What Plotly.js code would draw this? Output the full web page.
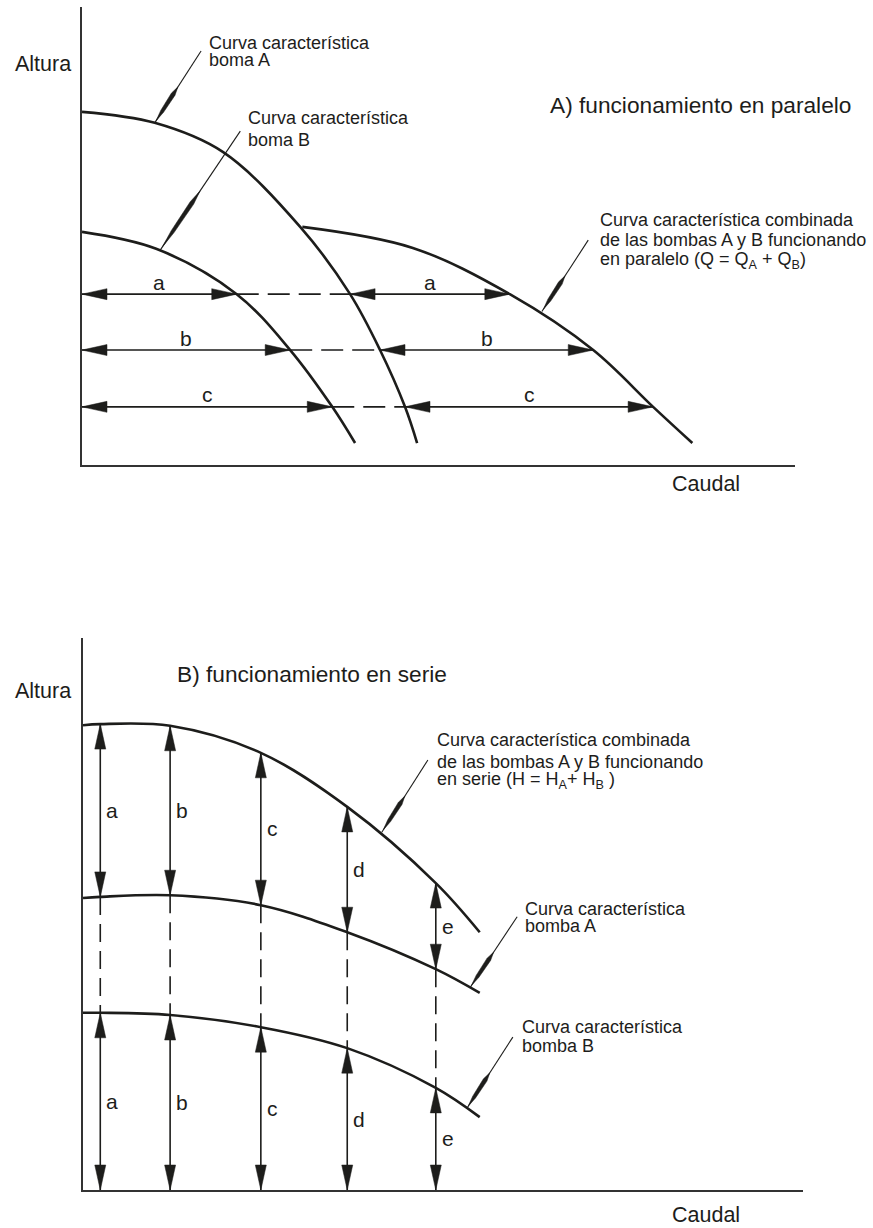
<!DOCTYPE html>
<html>
<head>
<meta charset="utf-8">
<script src="https://cdn.plot.ly/plotly-3.0.1.min.js"></script>
<style>html,body{margin:0;padding:0;background:#fff;}</style>
</head>
<body>
<div id="chart" style="width:873px;height:1228px;"></div>
<script>
// ---------- DATA (arbitrary units: Caudal 0-100, Altura 0-100) ----------
// A) parallel operation
const qA  = [0, 10.2, 19.8, 30.6, 37.6, 41.8, 45.3, 47.0];
const hA  = [77.1, 74.7, 68.3, 52.0, 37.3, 25.1, 12.7, 4.8];
const qB  = [0, 10.4, 21.7, 29.2, 35.1, 38.3];
const hB  = [50.9, 47.2, 37.3, 25.1, 12.7, 4.8];
const qAB = [30.9, 46.4, 60.0, 71.7, 80.1, 85.6];
const hAB = [52.0, 47.4, 37.3, 25.1, 12.7, 4.8];
const parLevels = [37.3, 25.1, 12.7];
const parLabels = ['a', 'b', 'c'];

// B) series operation
const qS   = [0, 2.4, 12.1, 24.7, 36.7, 49.0, 55.1];
const hSAB = [84.2, 84.4, 84.1, 79.2, 69.4, 55.6, 46.7];
const qSp  = [0, 2.4, 12.1, 24.7, 36.7, 49.0, 55.1];
const hSA  = [52.9, 53.1, 53.4, 51.6, 46.7, 40.0, 35.7];
const hSB  = [32.1, 32.1, 31.7, 29.5, 25.7, 18.5, 13.2];
const serPos = [2.4, 12.1, 24.7, 36.7, 49.0];
const serLabels = ['a', 'b', 'c', 'd', 'e'];

// ---------- LAYOUT CONSTANTS ----------
const W = 873, H = 1228;
const INK = '#1d1d1b';
const FONT = 'Liberation Sans, Arial, Helvetica, sans-serif';
const TOP = {x0: 82, x1: 795, y0: 7, y1: 465};
const BOT = {x0: 83, x1: 803, y0: 638, y1: 1190};
const kTx = (TOP.x1 - TOP.x0) / 100, kTy = (TOP.y1 - TOP.y0) / 100;
const kBx = (BOT.x1 - BOT.x0) / 100, kBy = (BOT.y1 - BOT.y0) / 100;

const traces = [], shapes = [], annotations = [];

function interpX(xs, ys, y) {
  for (let i = 0; i < xs.length - 1; i++) {
    const y0 = ys[i], y1 = ys[i + 1];
    if ((y <= y0 && y >= y1) || (y >= y0 && y <= y1)) {
      const t = (y - y0) / (y1 - y0);
      return xs[i] + t * (xs[i + 1] - xs[i]);
    }
  }
  return xs[xs.length - 1];
}
function interpY(xs, ys, x) {
  for (let i = 0; i < xs.length - 1; i++) {
    if (x >= xs[i] && x <= xs[i + 1]) {
      const t = (x - xs[i]) / (xs[i + 1] - xs[i]);
      return ys[i] + t * (ys[i + 1] - ys[i]);
    }
  }
  return ys[ys.length - 1];
}
function curve(x, y, xa, ya) {
  traces.push({type: 'scatter', mode: 'lines', x: x, y: y, xaxis: xa, yaxis: ya,
    line: {color: INK, width: 2.6, shape: 'spline', smoothing: 1.0}, hoverinfo: 'skip'});
}
function seg(x, y, xa, ya, dash) {
  traces.push({type: 'scatter', mode: 'lines', x: x, y: y, xaxis: xa, yaxis: ya,
    line: {color: INK, width: 1.6, dash: dash || 'solid'}, hoverinfo: 'skip'});
}
function head(xr, yr, kx, ky, tx, ty, dx, dy) {
  const L = 25, w = 5.5;
  const bx = tx - dx * L / kx, by = ty - dy * L / ky;
  const px = -dy, py = dx;
  const x1 = bx + px * w / kx, y1 = by + py * w / ky;
  const x2 = bx - px * w / kx, y2 = by - py * w / ky;
  return {type: 'path', xref: xr, yref: yr,
    path: 'M' + tx + ',' + ty + ' L' + x1 + ',' + y1 + ' L' + x2 + ',' + y2 + ' Z',
    fillcolor: INK, line: {color: INK, width: 0.5}};
}
function leader(xr, yr, kx, ky, sx, sy, tx, ty) {
  shapes.push({type: 'line', xref: xr, yref: yr, x0: sx, y0: sy, x1: tx, y1: ty,
    line: {color: INK, width: 1.1}});
  const DX = (tx - sx) * kx, DY = (ty - sy) * ky;
  const len = Math.hypot(DX, DY);
  const ux = DX / len, uy = DY / len;
  const px = -uy, py = ux;
  const w = 2.1;
  const P = t => [sx + (tx - sx) * t, sy + (ty - sy) * t];
  const off = (p, s) => [p[0] + px * s / kx, p[1] + py * s / ky];
  const a = P(0.5), m = P(0.6), n = P(0.84), b = P(0.97);
  const pts = [a, off(m, w), off(n, w * 0.8), b, off(n, -w * 0.8), off(m, -w)];
  shapes.push({type: 'path', xref: xr, yref: yr,
    path: 'M' + pts.map(p => p[0] + ',' + p[1]).join(' L') + ' Z',
    fillcolor: INK, line: {color: INK, width: 0.5}});
}
function txt(px, py, text, size) {
  annotations.push({xref: 'paper', yref: 'paper', x: px / W, y: 1 - py / H,
    xanchor: 'left', yanchor: 'middle', text: text, showarrow: false,
    font: {family: FONT, size: size, color: INK}});
}
function lab(xr, yr, x, y, text, xanchor, xshift, yshift) {
  annotations.push({xref: xr, yref: yr, x: x, y: y, xanchor: xanchor, yanchor: 'middle',
    xshift: xshift, yshift: yshift, text: text, showarrow: false,
    font: {family: FONT, size: 21, color: INK}});
}

// ---------- A) PARALLEL ----------
curve(qA, hA, 'x', 'y');
curve(qB, hB, 'x', 'y');
curve(qAB, hAB, 'x', 'y');
parLevels.forEach((h, i) => {
  const xb = interpX(qB, hB, h), xa = interpX(qA, hA, h), xab = interpX(qAB, hAB, h);
  seg([0, xb], [h, h], 'x', 'y');
  seg([xb, xa], [h, h], 'x', 'y', '22px,9px');
  seg([xa, xab], [h, h], 'x', 'y');
  shapes.push(head('x', 'y', kTx, kTy, 0, h, -1, 0));
  shapes.push(head('x', 'y', kTx, kTy, xb, h, 1, 0));
  shapes.push(head('x', 'y', kTx, kTy, xa, h, -1, 0));
  shapes.push(head('x', 'y', kTx, kTy, xab, h, 1, 0));
  lab('x', 'y', xb / 2, h, parLabels[i], 'center', 0, 12);
  lab('x', 'y', (xa + xab) / 2, h, parLabels[i], 'center', 0, 12);
});
leader('x', 'y', kTx, kTy, 16.7, 90.4, 10.2, interpY(qA, hA, 10.2));
leader('x', 'y', kTx, kTy, 22.2, 72.9, 10.9, interpY(qB, hB, 10.9));
leader('x', 'y', kTx, kTy, 71.0, 49.1, 64.5, interpY(qAB, hAB, 64.5) + 0.9);

txt(13, 64, 'Altura', 21.5);
txt(670, 484, 'Caudal', 21.5);
txt(548, 105, 'A) funcionamiento en paralelo', 22.7);
txt(207, 43.5, 'Curva característica', 18);
txt(207, 60, 'boma A', 18);
txt(246, 118.5, 'Curva característica', 18);
txt(246, 140, 'boma B', 18);
txt(598, 220, 'Curva característica combinada', 18);
txt(598, 240, 'de las bombas A y B funcionando', 18);
txt(598, 260, 'en paralelo (Q = Q<sub>A</sub> + Q<sub>B</sub>)', 18);

// ---------- B) SERIES ----------
curve(qS, hSAB, 'x2', 'y2');
curve(qSp, hSA, 'x2', 'y2');
curve(qSp, hSB, 'x2', 'y2');
serPos.forEach((q, i) => {
  const y1 = interpY(qS, hSAB, q), y2 = interpY(qSp, hSA, q), y3 = interpY(qSp, hSB, q);
  seg([q, q], [y1, y2], 'x2', 'y2');
  seg([q, q], [y2, y3], 'x2', 'y2', '18px,9px');
  seg([q, q], [y3, 0], 'x2', 'y2');
  shapes.push(head('x2', 'y2', kBx, kBy, q, y1, 0, 1));
  shapes.push(head('x2', 'y2', kBx, kBy, q, y2, 0, -1));
  shapes.push(head('x2', 'y2', kBx, kBy, q, y3, 0, 1));
  shapes.push(head('x2', 'y2', kBx, kBy, q, 0, 0, -1));
  lab('x2', 'y2', q, (y1 + y2) / 2, serLabels[i], 'left', 4, 0);
  lab('x2', 'y2', q, y3 / 2, serLabels[i], 'left', 4, 0);
});
leader('x2', 'y2', kBx, kBy, 47.9, 77.9, 41.5, interpY(qS, hSAB, 41.5) + 0.8);
leader('x2', 'y2', kBx, kBy, 60.3, 49.5, 53.75, interpY(qSp, hSA, 53.75));
leader('x2', 'y2', kBx, kBy, 59.7, 27.7, 53.3, interpY(qSp, hSB, 53.3));

txt(13, 691, 'Altura', 21.5);
txt(175, 674, 'B) funcionamiento en serie', 22.7);
txt(435, 740, 'Curva característica combinada', 18);
txt(435, 762, 'de las bombas A y B funcionando', 18);
txt(435, 781, 'en serie (H = H<sub>A</sub>+ H<sub>B</sub> )', 18);
txt(523, 908.5, 'Curva característica', 18);
txt(523, 926, 'bomba A', 18);
txt(520, 1027, 'Curva característica', 18);
txt(520, 1046, 'bomba B', 18);
txt(670, 1215, 'Caudal', 21.5);

// ---------- AXES ----------
const axBase = {range: [0, 100], showgrid: false, zeroline: false, showticklabels: false,
  ticks: '', showline: true, linecolor: '#333', linewidth: 2, fixedrange: true};
const layout = {
  width: W, height: H,
  margin: {l: 0, r: 0, t: 0, b: 0},
  paper_bgcolor: '#fff', plot_bgcolor: '#fff',
  showlegend: false,
  xaxis:  Object.assign({}, axBase, {domain: [TOP.x0 / W, TOP.x1 / W], anchor: 'y'}),
  yaxis:  Object.assign({}, axBase, {domain: [1 - TOP.y1 / H, 1 - TOP.y0 / H], anchor: 'x'}),
  xaxis2: Object.assign({}, axBase, {domain: [BOT.x0 / W, BOT.x1 / W], anchor: 'y2'}),
  yaxis2: Object.assign({}, axBase, {domain: [1 - BOT.y1 / H, 1 - BOT.y0 / H], anchor: 'x2'}),
  shapes: shapes,
  annotations: annotations
};
Plotly.newPlot('chart', traces, layout, {staticPlot: true, displayModeBar: false});
</script>
</body>
</html>
